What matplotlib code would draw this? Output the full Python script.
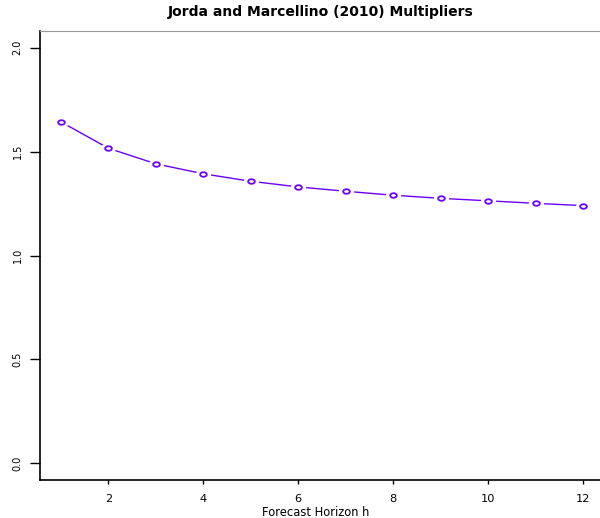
import matplotlib
matplotlib.use("Agg")
import matplotlib.pyplot as plt
from matplotlib.path import Path
from matplotlib.transforms import Affine2D

horizon = [1, 2, 3, 4, 5, 6, 7, 8, 9, 10, 11, 12]
multipliers = [1.643, 1.516, 1.441, 1.393, 1.357, 1.330, 1.309, 1.290, 1.275, 1.263, 1.251, 1.240]
x_ticks = [2, 4, 6, 8, 10, 12]
y_ticks = [0.0, 0.5, 1.0, 1.5, 2.0]
y_tick_labels = ["0.0", "0.5", "1.0", "1.5", "2.0"]

color = "#6A00FF"
W, H = 600, 518
fig = plt.figure(figsize=(W / 100, H / 100), dpi=100)
ax = fig.add_axes([40 / W, (H - 480) / H, (604 - 40) / W, (480 - 31) / H])

ellipse = Path.unit_circle().transformed(Affine2D().scale(1.25, 0.85))

ax.plot(horizon, multipliers, color=color, lw=1.0, zorder=2)
ax.plot(horizon, multipliers, ls="none", marker=ellipse, ms=11, mfc="white", mec="none", zorder=3)
ax.plot(horizon, multipliers, ls="none", marker=ellipse, ms=4.8, mfc="white", mec=color, mew=1.3, zorder=4)

ax.set_xlim(0.56, 12.44)
ax.set_ylim(-0.08, 2.08)
ax.set_xticks(x_ticks)
ax.set_xticklabels([str(v) for v in x_ticks], fontsize=8.2, family="DejaVu Sans")
ax.set_yticks(y_ticks)
ax.set_yticklabels(y_tick_labels, fontsize=7, rotation=90, va="center", family="DejaVu Sans")
ax.tick_params(axis="x", length=3, width=1, pad=7, direction="out")
ax.tick_params(axis="y", length=7.5, width=1, pad=5, direction="out")

ax.spines["right"].set_visible(False)
ax.spines["top"].set_color("#999999")
ax.spines["left"].set_linewidth(1.2)
ax.spines["bottom"].set_linewidth(1.2)

fig.text(321 / W, 1 - 12 / H, "Jorda and Marcellino (2010) Multipliers", ha="center", va="center",
         fontsize=10, fontweight="bold", family="DejaVu Sans")
fig.text(316 / W, 1 - 513 / H, "Forecast Horizon h", ha="center", va="center",
         fontsize=8.3, family="DejaVu Sans")

fig.savefig("out.png", dpi=100)
